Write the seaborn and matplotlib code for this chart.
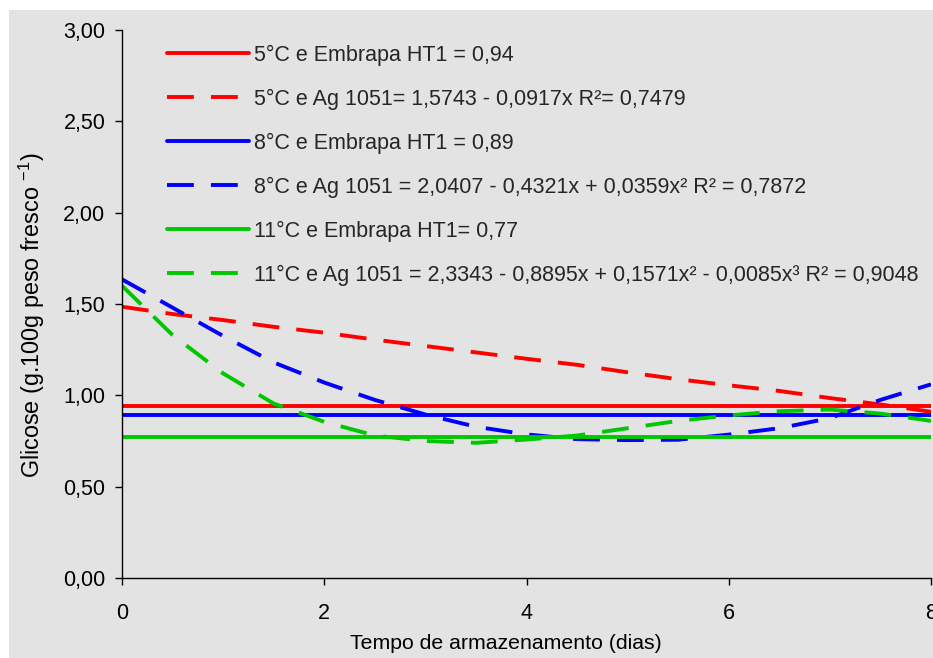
import matplotlib
matplotlib.use("Agg")
import matplotlib.pyplot as plt
import seaborn as sns
import pandas as pd
from matplotlib.patches import Rectangle
from matplotlib.ticker import FuncFormatter

# ---------------- data ----------------
days = [0, 0.5, 1, 1.5, 2, 2.5, 3, 3.5, 4, 4.5, 5, 5.5, 6, 6.5, 7, 7.5, 8]

ag_5c = [1.485, 1.445, 1.412, 1.375, 1.343, 1.305, 1.270, 1.235, 1.200,
         1.167, 1.126, 1.088, 1.055, 1.024, 0.985, 0.950, 0.910]
ag_8c = [1.635, 1.480, 1.325, 1.180, 1.070, 0.975, 0.895, 0.828, 0.786,
         0.760, 0.755, 0.757, 0.785, 0.820, 0.875, 0.975, 1.060]
ag_11c = [1.600, 1.330, 1.120, 0.955, 0.855, 0.780, 0.750, 0.740, 0.758,
          0.780, 0.820, 0.860, 0.890, 0.913, 0.922, 0.900, 0.860]

embrapa_const = [0.94, 0.89, 0.77]   # 5°C, 8°C, 11°C
x_range = [0, 8]

labels = [
    "5°C e Embrapa HT1 = 0,94",
    "5°C e Ag 1051= 1,5743 - 0,0917x R²= 0,7479",
    "8°C e Embrapa HT1 = 0,89",
    "8°C e Ag 1051 = 2,0407 - 0,4321x + 0,0359x² R² = 0,7872",
    "11°C e Embrapa HT1= 0,77",
    "11°C e Ag 1051 = 2,3343 - 0,8895x + 0,1571x² - 0,0085x³ R² = 0,9048",
]
colors = ["#ff0000", "#0000ff", "#00c800"]

y_ticks = [0, 0.5, 1.0, 1.5, 2.0, 2.5, 3.0]
x_ticks = [0, 2, 4, 6, 8]

# ---------------- style ----------------
sns.set_style("ticks")
plt.rcParams["font.family"] = ["Liberation Sans", "DejaVu Sans"]
plt.rcParams["mathtext.fontset"] = "custom"
plt.rcParams["mathtext.rm"] = "Liberation Sans"
plt.rcParams["mathtext.it"] = "Liberation Sans"
plt.rcParams["mathtext.bf"] = "Liberation Sans"

W, H = 933, 658
fig = plt.figure(figsize=(W / 100, H / 100), dpi=100)
fig.patch.set_facecolor("white")
bg = Rectangle((9 / W, 0), 1 - 9 / W, (H - 10) / H, transform=fig.transFigure,
               facecolor="#e3e3e3", edgecolor="none", zorder=-10)
fig.add_artist(bg)

ax = fig.add_axes([122 / W, 1 - 578 / H, (931 - 122) / W, (578 - 30) / H])
ax.set_facecolor("none")

lw = 2.8
dash = (0, (6.9, 4.4))
ag_series = [ag_5c, ag_8c, ag_11c]
for i in range(3):
    sns.lineplot(x=x_range, y=[embrapa_const[i]] * 2, ax=ax, color=colors[i],
                 lw=lw, label=labels[2 * i], linestyle="-")
    sns.lineplot(x=days, y=ag_series[i], ax=ax, color=colors[i],
                 lw=lw, label=labels[2 * i + 1], linestyle=dash)

ax.set_xlim(0, 8)
ax.set_ylim(0, 3)
ax.set_xticks(x_ticks)
ax.set_yticks(y_ticks)
ax.yaxis.set_major_formatter(FuncFormatter(lambda v, p: f"{v:.2f}".replace(".", ",")))
ax.xaxis.set_major_formatter(FuncFormatter(lambda v, p: f"{v:g}"))
ax.tick_params(axis="both", direction="out", length=5, width=1, color="black",
               labelsize=15.5, labelcolor="black")
ax.tick_params(axis="x", pad=13)
ax.tick_params(axis="y", pad=7)
for s in ["top", "right"]:
    ax.spines[s].set_visible(False)
for s in ["left", "bottom"]:
    ax.spines[s].set_color("black")
    ax.spines[s].set_linewidth(1)

ax.set_xlabel("Tempo de armazenamento (dias)", fontsize=15.3, color="black")
ax.set_ylabel("Glicose (g.100g peso fresco $^{-1}$)", fontsize=16.8, color="black")
ax.xaxis.set_label_coords(0.475, -0.102)
ax.yaxis.set_label_coords(-0.0927, 0.48)

handles, labs = ax.get_legend_handles_labels()
leg = ax.legend(handles, labs, loc="upper left", bbox_to_anchor=(0.0556, 0.973),
                frameon=False, fontsize=15.5, handlelength=3.8, handletextpad=0.24,
                labelspacing=1.06, borderpad=0, borderaxespad=0)

fig.savefig("out.png", dpi=100, facecolor=fig.get_facecolor())
